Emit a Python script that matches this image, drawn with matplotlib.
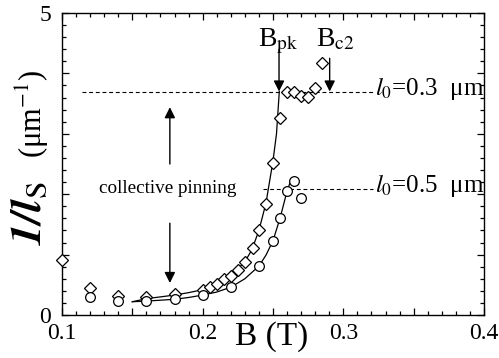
import matplotlib
matplotlib.use("Agg")
import matplotlib.pyplot as plt
from matplotlib.ticker import MultipleLocator

plt.rcParams['font.family'] = ['Liberation Serif', 'DejaVu Serif']
plt.rcParams['mathtext.fontset'] = 'stix'

# measured points
B_dia = [0.10, 0.12, 0.14, 0.16, 0.18, 0.20, 0.205, 0.21, 0.215, 0.22, 0.225, 0.23,
         0.236, 0.24, 0.245, 0.25, 0.255, 0.26, 0.265, 0.27, 0.275, 0.28, 0.285]
y_dia = [0.91, 0.45, 0.31, 0.30, 0.34, 0.41, 0.47, 0.51, 0.59, 0.65, 0.75, 0.88,
         1.11, 1.41, 1.84, 2.51, 3.26, 3.70, 3.69, 3.63, 3.61, 3.75, 4.18]

B_cir = [0.12, 0.14, 0.16, 0.18, 0.20, 0.22, 0.24, 0.25, 0.255, 0.26, 0.265, 0.27]
y_cir = [0.29, 0.24, 0.23, 0.26, 0.33, 0.46, 0.81, 1.23, 1.60, 2.05, 2.22, 1.93]

# fit curves
fit_dia_B = [0.15, 0.16, 0.17, 0.18, 0.19, 0.20, 0.21, 0.22, 0.23, 0.235, 0.24,
             0.245, 0.25, 0.2525, 0.2545]
fit_dia_y = [0.22, 0.27, 0.30, 0.33, 0.37, 0.42, 0.51, 0.65, 0.88, 1.08, 1.40,
             1.85, 2.55, 3.0, 3.7]
fit_cir_B = [0.15, 0.16, 0.17, 0.18, 0.19, 0.20, 0.21, 0.22, 0.23, 0.24, 0.245,
             0.25, 0.255, 0.26, 0.263]
fit_cir_y = [0.22, 0.23, 0.245, 0.26, 0.29, 0.33, 0.38, 0.46, 0.60, 0.81, 0.99,
             1.23, 1.60, 2.05, 2.25]

# reference lengths
l0_values = [0.3, 0.5]
l0_levels = [3.70, 2.09]
l0_xstart = [0.114, 0.2427]
l0_xend = 0.321

fig = plt.figure(figsize=(4.99, 3.58), dpi=100)
ax = fig.add_axes([0.1242, 0.1201, 0.9699 - 0.1242, 0.9637 - 0.1201])

ax.plot(fit_dia_B, fit_dia_y, color='k', lw=0.9)
ax.plot(fit_cir_B, fit_cir_y, color='k', lw=0.9)
ax.plot(B_dia, y_dia, linestyle='none', marker='D', ms=6, mfc='white', mec='k', mew=0.9,
        clip_on=False, zorder=5)
ax.plot(B_cir, y_cir, linestyle='none', marker='o', ms=7, mfc='white', mec='k', mew=0.9,
        clip_on=False, zorder=5)

for lv, xs, l0 in zip(l0_levels, l0_xstart, l0_values):
    ax.plot([xs, l0_xend], [lv, lv], color='k', lw=0.8, dashes=(3.5, 2.5))
    ax.text(l0_xend + 0.0012, lv - 0.06, r'$l_0$' + '=%.1f\u2002μm' % l0, fontsize=18,
            ha='left', va='baseline')

arrow = dict(arrowstyle='-|>', color='k', lw=1.0, mutation_scale=16, shrinkA=0, shrinkB=0)
ax.annotate('', xy=(0.2543, 3.70), xytext=(0.2543, 4.40), arrowprops=arrow)
ax.annotate('', xy=(0.2903, 3.70), xytext=(0.2903, 4.25), arrowprops=arrow)
ax.text(0.2396, 4.44, r'B$_{\rm pk}$', fontsize=20, ha='left', va='baseline')
ax.text(0.2808, 4.44, r'B$_{\rm c2}$', fontsize=20, ha='left', va='baseline')

ax.annotate('', xy=(0.1767, 3.44), xytext=(0.1767, 2.50), arrowprops=arrow)
ax.annotate('', xy=(0.1767, 0.53), xytext=(0.1767, 1.52), arrowprops=arrow)
ax.text(0.175, 2.10, 'collective pinning', fontsize=13.8, ha='center', va='center')

ax.set_xlim(0.1, 0.4)
ax.set_ylim(0, 5)
ax.xaxis.set_major_locator(MultipleLocator(0.05))
ax.xaxis.set_minor_locator(MultipleLocator(0.01))
ax.yaxis.set_major_locator(MultipleLocator(1))
ax.yaxis.set_minor_locator(MultipleLocator(0.2))

xlabels = {0.1: '0.1', 0.2: '0.2', 0.3: '0.3', 0.4: '0.4'}
ax.xaxis.set_major_formatter(matplotlib.ticker.FuncFormatter(
    lambda v, p: xlabels.get(round(v, 3), '')))
ax.yaxis.set_major_formatter(matplotlib.ticker.FuncFormatter(
    lambda v, p: {0: '0', 5: '5'}.get(int(round(v)), '')))

ax.tick_params(which='both', direction='in', top=True, right=True, labelsize=17, width=0.9)
ax.tick_params(which='major', length=5)
ax.tick_params(which='minor', length=2.8)
ax.tick_params(axis='x', pad=6)
ax.tick_params(axis='y', pad=8)
for s in ax.spines.values():
    s.set_linewidth(1.0)

fig.text(272 / 499, 1 - 337 / 358, 'B (T)', fontsize=24, ha='center', va='center')
fig.text(30 / 499, 1 - 213 / 358, r'$\mathbfit{1/l}_{\mathrm{S}}$', fontsize=32,
         rotation=90, ha='center', va='center')
fig.text(32 / 499, 1 - 114 / 358, '(μm$^{-1}$)', fontsize=22,
         rotation=90, ha='center', va='center')

fig.savefig('out.png', dpi=100)
